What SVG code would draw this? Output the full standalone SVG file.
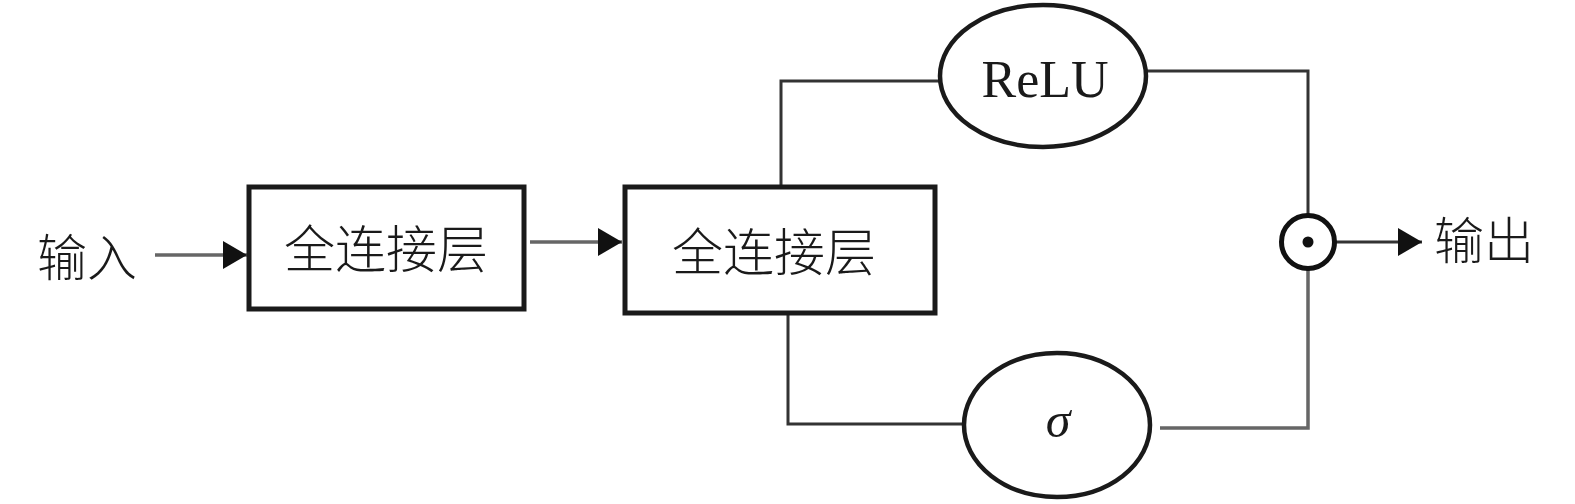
<svg xmlns="http://www.w3.org/2000/svg" width="1575" height="504" viewBox="0 0 1575 504">
<style>
.box{fill:#fff;stroke:#1a1a1a;stroke-width:5}
.ell{fill:#fff;stroke:#1a1a1a;stroke-width:4.5}
.ln{fill:none;stroke:#333;stroke-width:3}
.lg{fill:none;stroke:#666;stroke-width:3.5}
.cjk{font-family:"Liberation Serif","Noto Sans CJK SC",serif;font-weight:300;fill:#1a1a1a}
.lat{font-family:"Liberation Serif",serif;fill:#1a1a1a}
</style>
<defs>
<marker id="arr" markerUnits="userSpaceOnUse" markerWidth="26" markerHeight="30" refX="24" refY="14" orient="auto">
<polygon points="0,0 24,14 0,28" fill="#111"/>
</marker>
</defs>
<g id="connectors">
<line class="lg" x1="155" y1="255" x2="247" y2="255" marker-end="url(#arr)"/>
<line class="lg" x1="530" y1="242" x2="622" y2="242" marker-end="url(#arr)"/>
<polyline class="ln" points="781,186 781,81 940,81"/>
<polyline class="ln" points="788,313 788,424 966,424"/>
<polyline class="ln" points="1147,71 1308,71 1308,216"/>
<polyline class="lg" points="1160,428 1308,428 1308,268"/>
<line class="ln" x1="1335" y1="242" x2="1422" y2="242" marker-end="url(#arr)"/>
</g>
<g id="input">
<text class="cjk" x="87" y="276" font-size="50" text-anchor="middle">输入</text>
</g>
<g id="fc1">
<rect class="box" x="249" y="187" width="275" height="122"/>
<text class="cjk" x="386" y="268" font-size="51" text-anchor="middle">全连接层</text>
</g>
<g id="fc2">
<rect class="box" x="625" y="187" width="310" height="126"/>
<text class="cjk" x="774" y="271" font-size="51" text-anchor="middle">全连接层</text>
</g>
<g id="relu">
<ellipse class="ell" cx="1043" cy="76" rx="103" ry="71"/>
<text class="lat" x="1045" y="97" font-size="52" text-anchor="middle">ReLU</text>
</g>
<g id="sigma">
<ellipse class="ell" cx="1057" cy="425" rx="93" ry="72"/>
<text class="lat" x="1058" y="437" font-size="50" font-style="italic" text-anchor="middle">σ</text>
</g>
<g id="hadamard">
<circle cx="1308" cy="242" r="26.5" fill="#fff" stroke="#111" stroke-width="5"/>
<circle cx="1308" cy="242" r="5.5" fill="#111"/>
</g>
<g id="output">
<text class="cjk" x="1484" y="259" font-size="50" text-anchor="middle">输出</text>
</g>
</svg>
